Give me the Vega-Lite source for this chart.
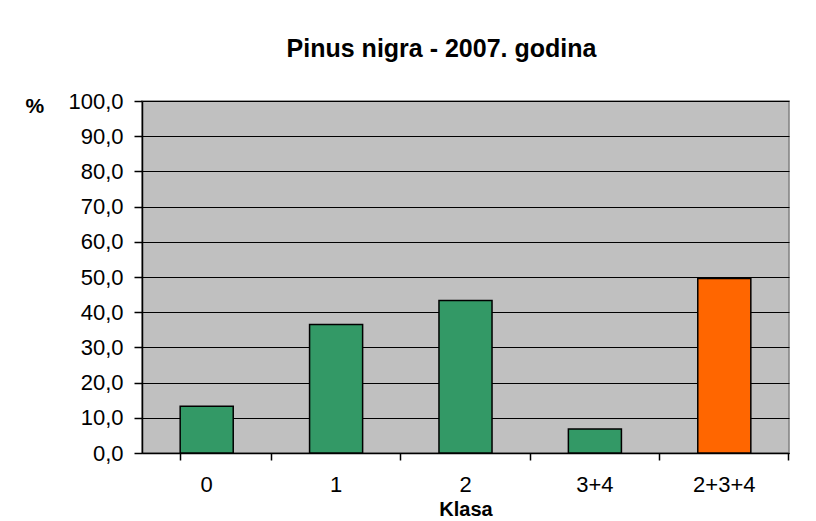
{
  "$schema": "https://vega.github.io/schema/vega-lite/v6.json",
  "width": 647,
  "height": 352,
  "autosize": {"type": "none"},
  "padding": {"left": 142, "top": 101, "right": 27, "bottom": 68},
  "background": "white",
  "title": {
    "text": "Pinus nigra - 2007. godina",
    "font": "Liberation Sans",
    "fontSize": 25,
    "fontWeight": "bold",
    "color": "black",
    "anchor": "middle",
    "dx": -24,
    "offset": 28
  },
  "data": {
    "values": [
      {"Klasa": "0", "pct": 13.3},
      {"Klasa": "1", "pct": 36.5},
      {"Klasa": "2", "pct": 43.3},
      {"Klasa": "3+4", "pct": 6.8},
      {"Klasa": "2+3+4", "pct": 49.6}
    ]
  },
  "mark": {"type": "bar", "stroke": "black", "strokeWidth": 1.5},
  "encoding": {
    "x": {
      "field": "Klasa",
      "type": "nominal",
      "sort": null,
      "scale": {"paddingInner": 0.59, "paddingOuter": 0.295},
      "axis": {
        "title": "Klasa",
        "labelAngle": 0,
        "bandPosition": 1.7195,
        "tickExtra": true,
        "tickSize": 7,
        "labelPadding": 14,
        "titleBaseline": "alphabetic",
        "titleY": 62,
        "titleFontSize": 20
      }
    },
    "y": {
      "field": "pct",
      "type": "quantitative",
      "scale": {"domain": [0, 100], "nice": false},
      "axis": {
        "title": "%",
        "values": [0, 10, 20, 30, 40, 50, 60, 70, 80, 90, 100],
        "format": ".1f",
        "grid": true,
        "tickSize": 8,
        "labelPadding": 11,
        "titleAngle": 0,
        "titleAlign": "left",
        "titleBaseline": "alphabetic",
        "titleX": -117,
        "titleY": 11
      }
    },
    "color": {
      "field": "Klasa",
      "type": "nominal",
      "scale": {
        "domain": ["0", "1", "2", "3+4", "2+3+4"],
        "range": ["#339966", "#339966", "#339966", "#339966", "#FF6600"]
      },
      "legend": null
    }
  },
  "config": {
    "locale": {
      "number": {"decimal": ",", "thousands": ".", "grouping": [3], "currency": ["", ""]}
    },
    "view": {"fill": "#C0C0C0", "stroke": "#808080", "strokeWidth": 1.5},
    "axis": {
      "labelFont": "Liberation Sans",
      "labelFontSize": 22,
      "labelColor": "black",
      "titleFont": "Liberation Sans",
      "titleFontSize": 21,
      "titleFontWeight": "bold",
      "titleColor": "black",
      "domainColor": "black",
      "domainWidth": 1.5,
      "tickColor": "black",
      "tickWidth": 1.5,
      "gridColor": "black",
      "gridWidth": 1.2,
      "gridOpacity": 1,
      "labelOverlap": false,
      "labelFlush": false
    }
  }
}
